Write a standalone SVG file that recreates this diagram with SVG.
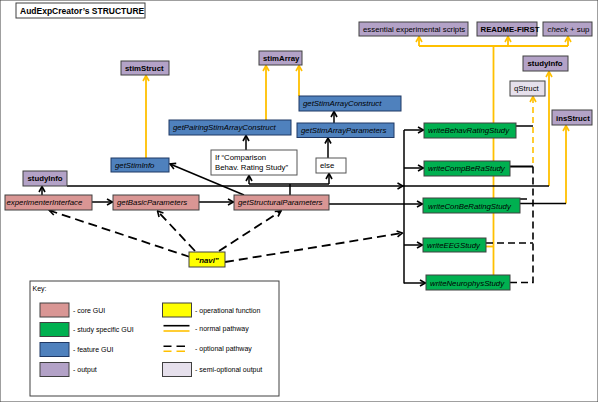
<svg xmlns="http://www.w3.org/2000/svg" width="598" height="402" viewBox="0 0 598 402">
<defs>
<marker id="ab" viewBox="0 0 8 8" refX="7" refY="4" markerWidth="8" markerHeight="8" markerUnits="userSpaceOnUse" orient="auto"><path d="M1.5,1 L7,4 L1.5,7" fill="none" stroke="#000" stroke-width="1.6"/></marker>
<marker id="ay" viewBox="0 0 8 8" refX="7" refY="4" markerWidth="8" markerHeight="8" markerUnits="userSpaceOnUse" orient="auto"><path d="M1.5,1 L7,4 L1.5,7" fill="none" stroke="#ffc000" stroke-width="1.6"/></marker>
</defs>
<style>
text{font-family:"Liberation Sans",Arial,sans-serif;font-size:7.8px;fill:#000}
.i{font-style:italic}
.b{font-weight:bold}
.k{font-size:7px}
rect{stroke:#404040;stroke-width:1}
.core{fill:#d99694}
.study{fill:#00b050}
.feat{fill:#4f81bd;stroke:#1f3864}
.out{fill:#b3a2c7}
.semi{fill:#e6e0ec}
.op{fill:#ffff00}
.wh{fill:#fff;stroke:#555}
.bk{fill:none;stroke:#000;stroke-width:1.5}
.bd{fill:none;stroke:#000;stroke-width:1.6;stroke-dasharray:7,4}
.nd{fill:none;stroke:#000;stroke-width:1.8;stroke-dasharray:9,5}
.yl{fill:none;stroke:#ffc000;stroke-width:1.8}
.yd{fill:none;stroke:#ffc000;stroke-width:1.6;stroke-dasharray:6,4}
</style>
<rect width="598" height="402" fill="#fff" stroke="none"/>
<g id="title"><rect x="16" y="3" width="129" height="15" fill="#fff" stroke="#000" stroke-width="2"/><text x="20" y="14" class="b" style="font-size:8.5px">AudExpCreator’s STRUCTURE</text></g>

<g id="connectors">
<path class="yl" d="M419,46 H568"/>
<path class="yl" d="M419,46 V36.5" marker-end="url(#ay)"/>
<path class="yl" d="M508,46 V36.5" marker-end="url(#ay)"/>
<path class="yl" d="M568,46 V36.5" marker-end="url(#ay)"/>
<path class="yl" d="M493.5,46 V276"/>
<path class="yl" d="M486,246.5 H493.5"/>
<path class="yl" d="M146,158 V75.5" marker-end="url(#ay)"/>
<path class="yl" d="M266,120 V65.5" marker-end="url(#ay)"/>
<path class="yl" d="M299,96 V65.5" marker-end="url(#ay)"/>
<path class="yl" d="M549,186 V71.5" marker-end="url(#ay)"/>
<path class="yl" d="M566,203.5 V125.5" marker-end="url(#ay)"/>
<path class="yd" d="M533,163 V96.5" marker-end="url(#ay)"/>
<path class="bk" d="M42,195 V186.5" marker-end="url(#ab)"/>
<path class="bk" d="M92,202 H112.5" marker-end="url(#ab)"/>
<path class="bk" d="M199,202 H233.5" marker-end="url(#ab)"/>
<path class="bk" d="M244,195 L170,164" marker-end="url(#ab)"/>
<path class="bk" d="M290,195 V184"/>
<path class="bk" d="M249,184 H329"/>
<path class="bk" d="M249,184 V175.5" marker-end="url(#ab)"/>
<path class="bk" d="M329,184 V173.5" marker-end="url(#ab)"/>
<path class="bk" d="M246,150 V135.5" marker-end="url(#ab)"/>
<path class="bk" d="M328,158 V138" marker-end="url(#ab)"/>
<path class="bk" d="M334,123 V111.5" marker-end="url(#ab)"/>
<path class="bk" d="M67,186 H403" marker-end="url(#ab)"/>
<path class="bk" d="M403,186 H549"/>
<path class="bk" d="M329,204 H422.5" marker-end="url(#ab)"/>
<path class="bk" d="M404,130 V283.5"/>
<path class="bk" d="M404,130 H423.5" marker-end="url(#ab)"/>
<path class="bk" d="M404,168 H423.5" marker-end="url(#ab)"/>
<path class="bk" d="M404,245 H422.5" marker-end="url(#ab)"/>
<path class="bk" d="M404,283 H425.5" marker-end="url(#ab)"/>
<path class="bk" d="M516,126 H533"/>
<path class="bk" d="M510,166.5 H533" style="stroke-width:2"/>
<path class="bk" d="M520,203.5 H566"/>
<path class="bk" d="M520,199 H527"/>
<path class="nd" d="M190,257 L49.5,210.5" marker-end="url(#ab)"/>
<path class="nd" d="M195,251 L157.5,211" marker-end="url(#ab)"/>
<path class="nd" d="M219,251 L281,211" marker-end="url(#ab)"/>
<path class="nd" d="M225,262 L402.5,233" marker-end="url(#ab)"/>
<path class="bd" d="M486,243 H533"/>
<path class="bd" d="M510,282.5 H533 V163"/>
</g>

<g id="stimStruct"><rect class="out" x="121" y="61" width="48" height="14"/><text x="125" y="70.8" class="b">stimStruct</text></g>
<g id="stimArray"><rect class="out" x="259" y="51" width="43" height="14"/><text x="263" y="60.8" class="b">stimArray</text></g>
<g id="getPairingStimArrayConstruct"><rect class="feat" x="169" y="120" width="122" height="15"/><text x="173" y="130.3" class="i">getPairingStimArrayConstruct</text></g>
<g id="getStimArrayConstruct"><rect class="feat" x="299" y="96" width="102" height="15"/><text x="303" y="106.3" class="i">getStimArrayConstruct</text></g>
<g id="getStimArrayParameters"><rect class="feat" x="297" y="123" width="97" height="14.5"/><text x="301" y="133.3" class="i">getStimArrayParameters</text></g>
<g id="ifComparison"><rect class="wh" x="211" y="150" width="86" height="25"/><text x="215" y="159.8">If “Comparison</text><text x="215" y="170.3">Behav. Rating Study”</text></g>
<g id="else"><rect class="wh" x="316" y="158" width="30" height="15"/><text x="320" y="168.3">else</text></g>
<g id="getStimInfo"><rect class="feat" x="111" y="158" width="58" height="14"/><text x="115" y="168.3" class="i">getStimInfo</text></g>
<g id="studyInfoLeft"><rect class="out" x="23" y="171" width="44" height="15"/><text x="27.5" y="181.3" class="b">studyInfo</text></g>
<g id="experimenterInterface"><rect class="core" x="5" y="195" width="87" height="15"/><text x="6.5" y="205.3" class="i">experimenterInterface</text></g>
<g id="getBasicParameters"><rect class="core" x="113" y="195" width="86" height="15"/><text x="117" y="205.3" class="i">getBasicParameters</text></g>
<g id="getStructuralParameters"><rect class="core" x="234" y="195" width="95" height="15"/><text x="238" y="205.3" class="i">getStructuralParameters</text></g>
<g id="navi"><rect class="op" x="189" y="252" width="36" height="15"/><text x="207" y="262.8" class="i b" text-anchor="middle">“navi”</text></g>

<g id="essentialScripts"><rect class="out" x="359" y="22" width="109" height="14"/><text x="363" y="31.8">essential experimental scripts</text></g>
<g id="readmeFirst"><rect class="out" x="477" y="22" width="60" height="14"/><text x="480.5" y="31.8" class="b">README-FIRST</text></g>
<g id="checkSup"><rect class="out" x="543" y="22" width="49" height="14"/><text x="547.5" y="31.8"><tspan class="i">check</tspan> + sup</text></g>
<g id="studyInfoRight"><rect class="out" x="523" y="56" width="45" height="15"/><text x="527.5" y="66.3" class="b">studyInfo</text></g>
<g id="qStruct"><rect class="semi" x="510" y="81" width="35" height="15"/><text x="514" y="91.3">qStruct</text></g>
<g id="insStruct"><rect class="out" x="552" y="110" width="40" height="15"/><text x="556" y="120.8" class="b">insStruct</text></g>

<g id="writeBehavRatingStudy"><rect class="study" x="424" y="123" width="92" height="15"/><text x="428" y="133.3" class="i">writeBehavRatingStudy</text></g>
<g id="writeCompBeRaStudy"><rect class="study" x="424" y="161" width="86" height="15"/><text x="428" y="171.3" class="i">writeCompBeRaStudy</text></g>
<g id="writeConBeRatingStudy"><rect class="study" x="423" y="198" width="97" height="15"/><text x="428" y="208.8" class="i">writeConBeRatingStudy</text></g>
<g id="writeEEGStudy"><rect class="study" x="423" y="238" width="63" height="14"/><text x="427" y="248.3" class="i">writeEEGStudy</text></g>
<g id="writeNeurophysStudy"><rect class="study" x="426" y="275" width="84" height="15"/><text x="430" y="285.8" class="i">writeNeurophysStudy</text></g>

<g id="key">
<rect x="30" y="281" width="249" height="115" fill="#fff" stroke="#000" stroke-width="1.5"/>
<text x="32.5" y="291" class="k">Key:</text>
<rect class="core" x="40" y="303" width="29" height="14"/><text x="73" y="312.5" class="k">- core GUI</text>
<rect class="study" x="40" y="322.5" width="29" height="14"/><text x="73" y="332" class="k">- study  specific GUI</text>
<rect class="feat" x="40" y="342.5" width="29" height="14"/><text x="73" y="352" class="k">- feature GUI</text>
<rect class="out" x="40" y="362.5" width="29" height="14"/><text x="73" y="372" class="k">- output</text>
<rect class="op" x="162.5" y="303" width="29" height="14"/><text x="195" y="312.5" class="k">- operational  function</text>
<path d="M163.5,325.7 H189.5" stroke="#000" stroke-width="1.6"/><path d="M163.5,331 H189.5" stroke="#ffc000" stroke-width="1.6"/><text x="195" y="331" class="k">- normal pathway</text>
<path d="M163.5,346.3 H171.5 M176.5,346.3 H185" stroke="#000" stroke-width="1.6"/><path d="M163.5,351.3 H171.5 M176.5,351.3 H185" stroke="#ffc000" stroke-width="1.6"/><text x="195" y="351" class="k">- optional  pathway</text>
<rect class="semi" x="162.5" y="362.5" width="29" height="14"/><text x="195" y="372" class="k">-  semi-optional output</text>
</g>
</svg>
